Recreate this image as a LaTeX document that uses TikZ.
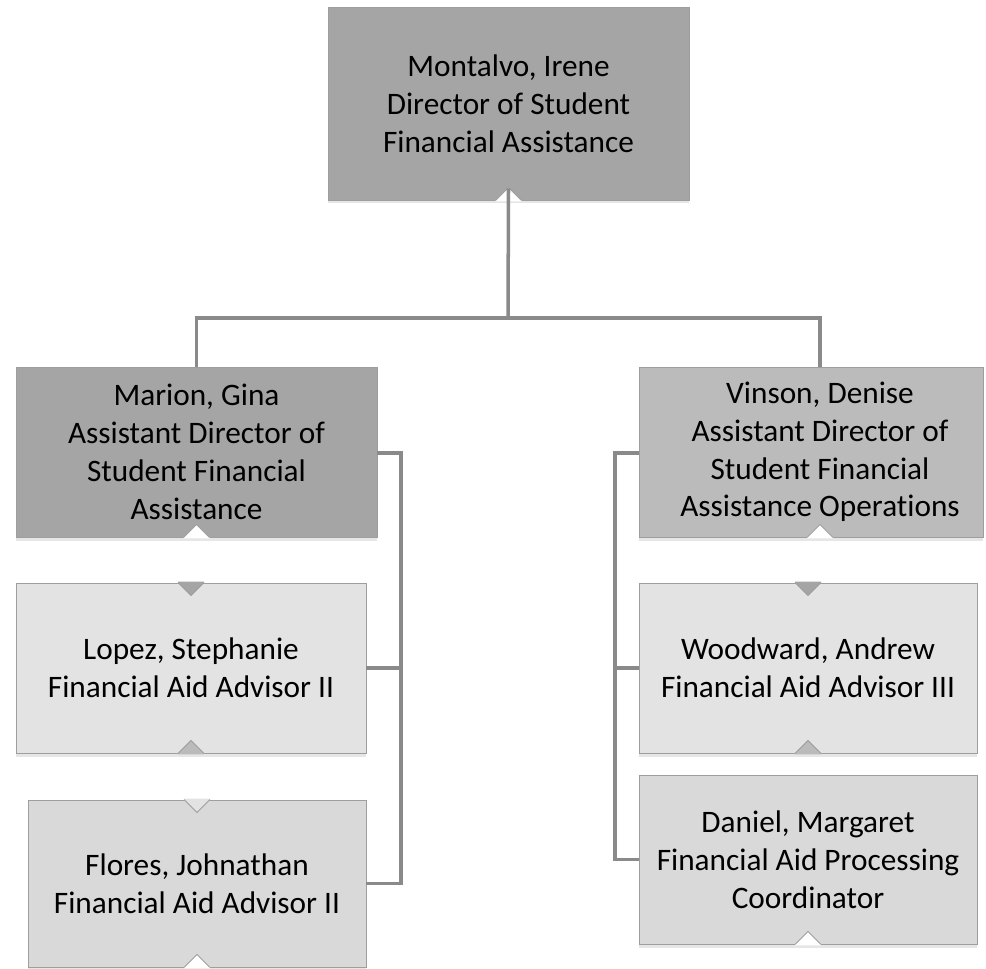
\documentclass[tikz,border=0pt]{standalone}
\usepackage{fontspec}
\setmainfont{Carlito}[RawFeature={-liga;-calt;-dlig;-clig}]
\usetikzlibrary{calc,shadows}
\definecolor{boxdark}{HTML}{A5A5A5}
\definecolor{boxmid}{HTML}{BBBBBB}
\definecolor{boxlight}{HTML}{E3E3E3}
\definecolor{boxpale}{HTML}{D9D9D9}
\definecolor{edgegray}{HTML}{9E9E9E}
\definecolor{linkgray}{HTML}{8A8A8A}
\begin{document}
\begin{tikzpicture}[x=0.02cm, y=-0.02cm,
		txt/.style={align=center, font=\fontsize{17.8}{21.5}\selectfont},
		person/.style={txt, draw=edgegray, line width=0.5pt, inner sep=0pt,
			drop shadow={shadow xshift=0pt, shadow yshift=-2pt, opacity=0.2}},
		link/.style={linkgray, line width=2pt}]
		\useasboundingbox (0,0) rectangle (986,969);
		
		\node[person, fill=boxdark, minimum width=7.22cm, minimum height=3.86cm] (dir) at (508.5,103.5) {Montalvo, Irene\\Director of Student\\Financial Assistance};
		\node[person, fill=boxdark, minimum width=7.22cm, minimum height=3.4cm] (marion) at (196.5,452) {Marion, Gina\\Assistant Director of\\Student Financial\\Assistance};
		\node[person, fill=boxmid, minimum width=6.88cm, minimum height=3.4cm,
			label={[txt, xshift=0.18cm]center:Vinson, Denise\\Assistant Director of\\Student Financial\\Assistance Operations}] (vinson) at (811,452) {};
		\node[person, fill=boxlight, minimum width=7cm, minimum height=3.4cm] (lopez) at (191,668) {Lopez, Stephanie\\Financial Aid Advisor II};
		\node[person, fill=boxpale, minimum width=6.76cm, minimum height=3.34cm] (flores) at (197,883.5) {Flores, Johnathan\\Financial Aid Advisor II};
		\node[person, fill=boxlight, minimum width=6.76cm, minimum height=3.4cm] (woodward) at (808,668) {Woodward, Andrew\\Financial Aid Advisor III};
		\node[person, fill=boxpale, minimum width=6.76cm, minimum height=3.38cm] (daniel) at (808,859.5) {Daniel, Margaret\\Financial Aid Processing\\Coordinator};
		
		% notches
		\foreach \n/\dx/\c in {dir/0/white, marion/0/white, vinson/9/white, lopez/0/boxmid, flores/0/white, woodward/0/boxmid, daniel/0/white}{
			\fill[fill=\c] ($(\n.south)+(\dx-13,1)$) -- ++(0,-1) -- ++(13,-13) -- ++(13,13) -- ++(0,1) -- cycle;
			\draw[edgegray, line width=0.5pt] ($(\n.south)+(\dx-13,0)$) -- ++(13,-13) -- ++(13,13);
		}
		\foreach \n/\c in {lopez/boxdark, flores/boxlight, woodward/boxdark}{
			\fill[fill=\c] ($(\n.north)+(-13,-1)$) -- ++(0,1) -- ++(13,13) -- ++(13,-13) -- ++(0,-1) -- cycle;
			\draw[edgegray, line width=0.5pt] ($(\n.north)+(-13,0)$) -- ++(13,13) -- ++(13,-13);
		}
		
		\coordinate (dirtip) at ($(dir.south)+(0,-12)$);
		\coordinate (bar) at (508,318);
		\coordinate (vtop) at ($(vinson.north)+(9,0)$);
		\coordinate (mbus) at (401,453);
		\coordinate (vbus) at (615,453);
		
		\draw[link] (dirtip) -- (bar);
		\draw[link] (marion.north) |- (bar) -| (vtop);
		\draw[link] (marion.east |- mbus) -- (mbus) |- (flores.east);
		\draw[link] (lopez.east) -- (lopez.east -| mbus);
		\draw[link] (vinson.west |- vbus) -- (vbus) |- (daniel.west);
		\draw[link] (woodward.west) -- (woodward.west -| vbus);
\end{tikzpicture}
\end{document}
